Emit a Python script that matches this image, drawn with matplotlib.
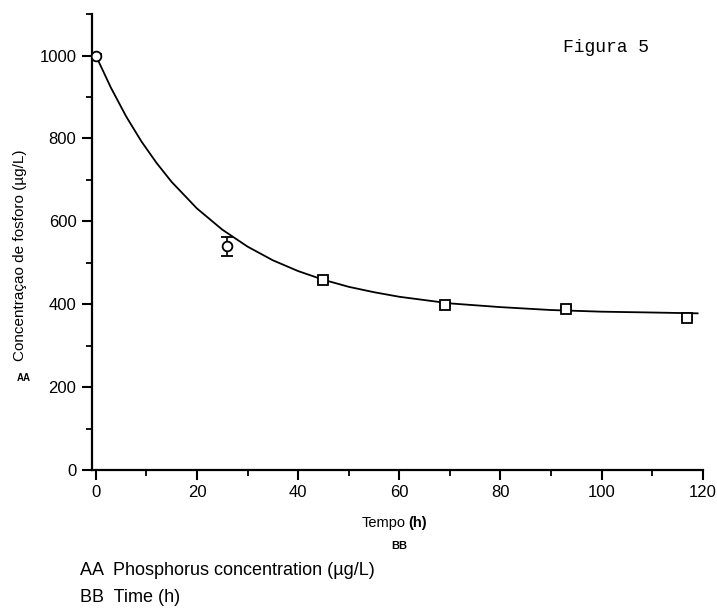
import matplotlib.pyplot as plt
from matplotlib.ticker import MultipleLocator

# measured points
tempo = [0, 26, 45, 69, 93, 117]
fosforo = [1000, 540, 458, 399, 389, 366]
erro = [4, 23, 5, 4, 4, 4]
marcador = ['o', 'o', 's', 's', 's', 's']

# fitted curve
curva_t = [0, 3, 6, 9, 12, 15, 20, 25, 30, 35, 40, 45, 50, 55, 60, 70, 80, 90, 100, 110, 119]
curva_y = [1000, 922, 853, 793, 741, 695, 631, 580, 539, 506, 480, 459, 442, 429, 418, 402, 393, 386, 382, 380, 378]

plt.rcParams['font.family'] = ['Liberation Sans', 'DejaVu Sans']

fig = plt.figure(figsize=(7.17, 6.12), dpi=100)
ax = fig.add_axes([0.128, 0.232, 0.852, 0.745])

ax.plot(curva_t, curva_y, color='black', lw=1.3, zorder=2)
for t, y, e, m in zip(tempo, fosforo, erro, marcador):
    ax.errorbar(t, y, yerr=e, fmt=m, mfc='white', mec='black', ecolor='black',
                ms=7 if m == 'o' else 6.5, mew=1.3, elinewidth=1.2, capsize=4,
                capthick=1.2, zorder=3)

ax.set_xlim(-0.8, 120)
ax.set_ylim(0, 1100)
ax.xaxis.set_major_locator(MultipleLocator(20))
ax.xaxis.set_minor_locator(MultipleLocator(10))
ax.yaxis.set_major_locator(MultipleLocator(200))
ax.yaxis.set_minor_locator(MultipleLocator(100))
ax.spines['top'].set_visible(False)
ax.spines['right'].set_visible(False)
for s in ['left', 'bottom']:
    ax.spines[s].set_linewidth(1.6)
ax.tick_params(which='major', direction='out', length=7, width=1.5, labelsize=12, pad=4)
ax.tick_params(which='minor', direction='out', length=4, width=1.3)

# axis titles
fig.text(0.028, 0.583, 'Concentraçao de fosforo (µg/L)', fontsize=11, rotation=90,
         ha='center', va='center')
fig.text(0.566, 0.139, 'Tempo', fontsize=10.5, ha='right', va='baseline')
fig.text(0.570, 0.139, '(h)', fontsize=10.5, fontweight='bold', ha='left', va='baseline')

fig.text(0.845, 0.922, 'Figura 5', family='Liberation Mono', fontsize=13, ha='center', va='center')
fig.text(0.033, 0.382, 'AA', fontsize=7, fontweight='bold', ha='center', va='center')
fig.text(0.557, 0.108, 'BB', fontsize=8, fontweight='bold', ha='center', va='center')
fig.text(0.112, 0.060, 'AA  Phosphorus concentration (µg/L)', fontsize=13, va='baseline')
fig.text(0.112, 0.016, 'BB  Time (h)', fontsize=13, va='baseline')

plt.savefig('out.png', dpi=100)
